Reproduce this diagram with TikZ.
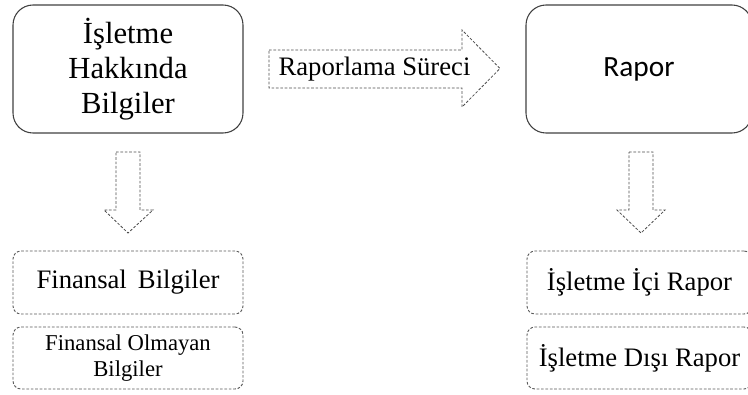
\documentclass[tikz,border=0pt]{standalone}
\usepackage{fontspec}
\setmainfont{Liberation Serif}
\newfontfamily\calibfont{Carlito}
\begin{document}
\begin{tikzpicture}[x=0.75pt,y=-0.75pt,
  solidbox/.style={draw=black!75, line width=0.8pt, rounded corners=15pt, inner sep=0pt, align=center},
  dashbox/.style={draw=black!65, line width=0.7pt, dash pattern=on 2pt off 1.3pt, rounded corners=6pt, inner sep=0pt, align=center},
  blockarrow/.style={draw=black!70, line width=0.6pt, dash pattern=on 2pt off 1.3pt, line join=miter}]
\useasboundingbox (0,0) rectangle (748,394);

% top boxes
\node[solidbox, minimum width=172.5pt, minimum height=96pt,
      font=\fontsize{23}{26}\selectfont] (info) at (128,69) {İşletme\\Hakkında\\Bilgiler};
\node[solidbox, minimum width=169.5pt, minimum height=96pt,
      font=\calibfont\fontsize{22}{26}\selectfont] (rapor) at (639,69) {Rapor};

% process arrow
\draw[blockarrow] (269,50) -- (462,50) -- (462,30) -- (500,68.5) -- (462,107) -- (462,88) -- (269,88) -- cycle;
\node[font=\fontsize{20}{24}\selectfont, inner sep=0pt] (surec) at (374.5,69) {Raporlama Süreci};

% down arrows
\draw[blockarrow] (116,152) -- (140,152) -- (140,210) -- (153,210) -- (128,233) -- (104,210) -- (116,210) -- cycle;
\draw[blockarrow] (629,152) -- (653,152) -- (653,210) -- (665,210) -- (641,233) -- (617,210) -- (629,210) -- cycle;

% lower boxes
\node[dashbox, minimum width=172.5pt, minimum height=47.25pt,
      font=\fontsize{20}{24}\selectfont] (fin) at (128,282.5) {Finansal\, Bilgiler};
\node[dashbox, minimum width=172.5pt, minimum height=46.5pt,
      font=\fontsize{17}{19.5}\selectfont] (nonfin) at (128,358) {Finansal Olmayan\\Bilgiler};
\node[dashbox, minimum width=168.75pt, minimum height=47.25pt,
      font=\fontsize{20}{24}\selectfont] (ici) at (639.5,282.5) {İşletme İçi Rapor};
\node[dashbox, minimum width=168.75pt, minimum height=46.5pt,
      font=\fontsize{20}{24}\selectfont] (disi) at (639.5,358) {İşletme Dışı Rapor};
\end{tikzpicture}
\end{document}
